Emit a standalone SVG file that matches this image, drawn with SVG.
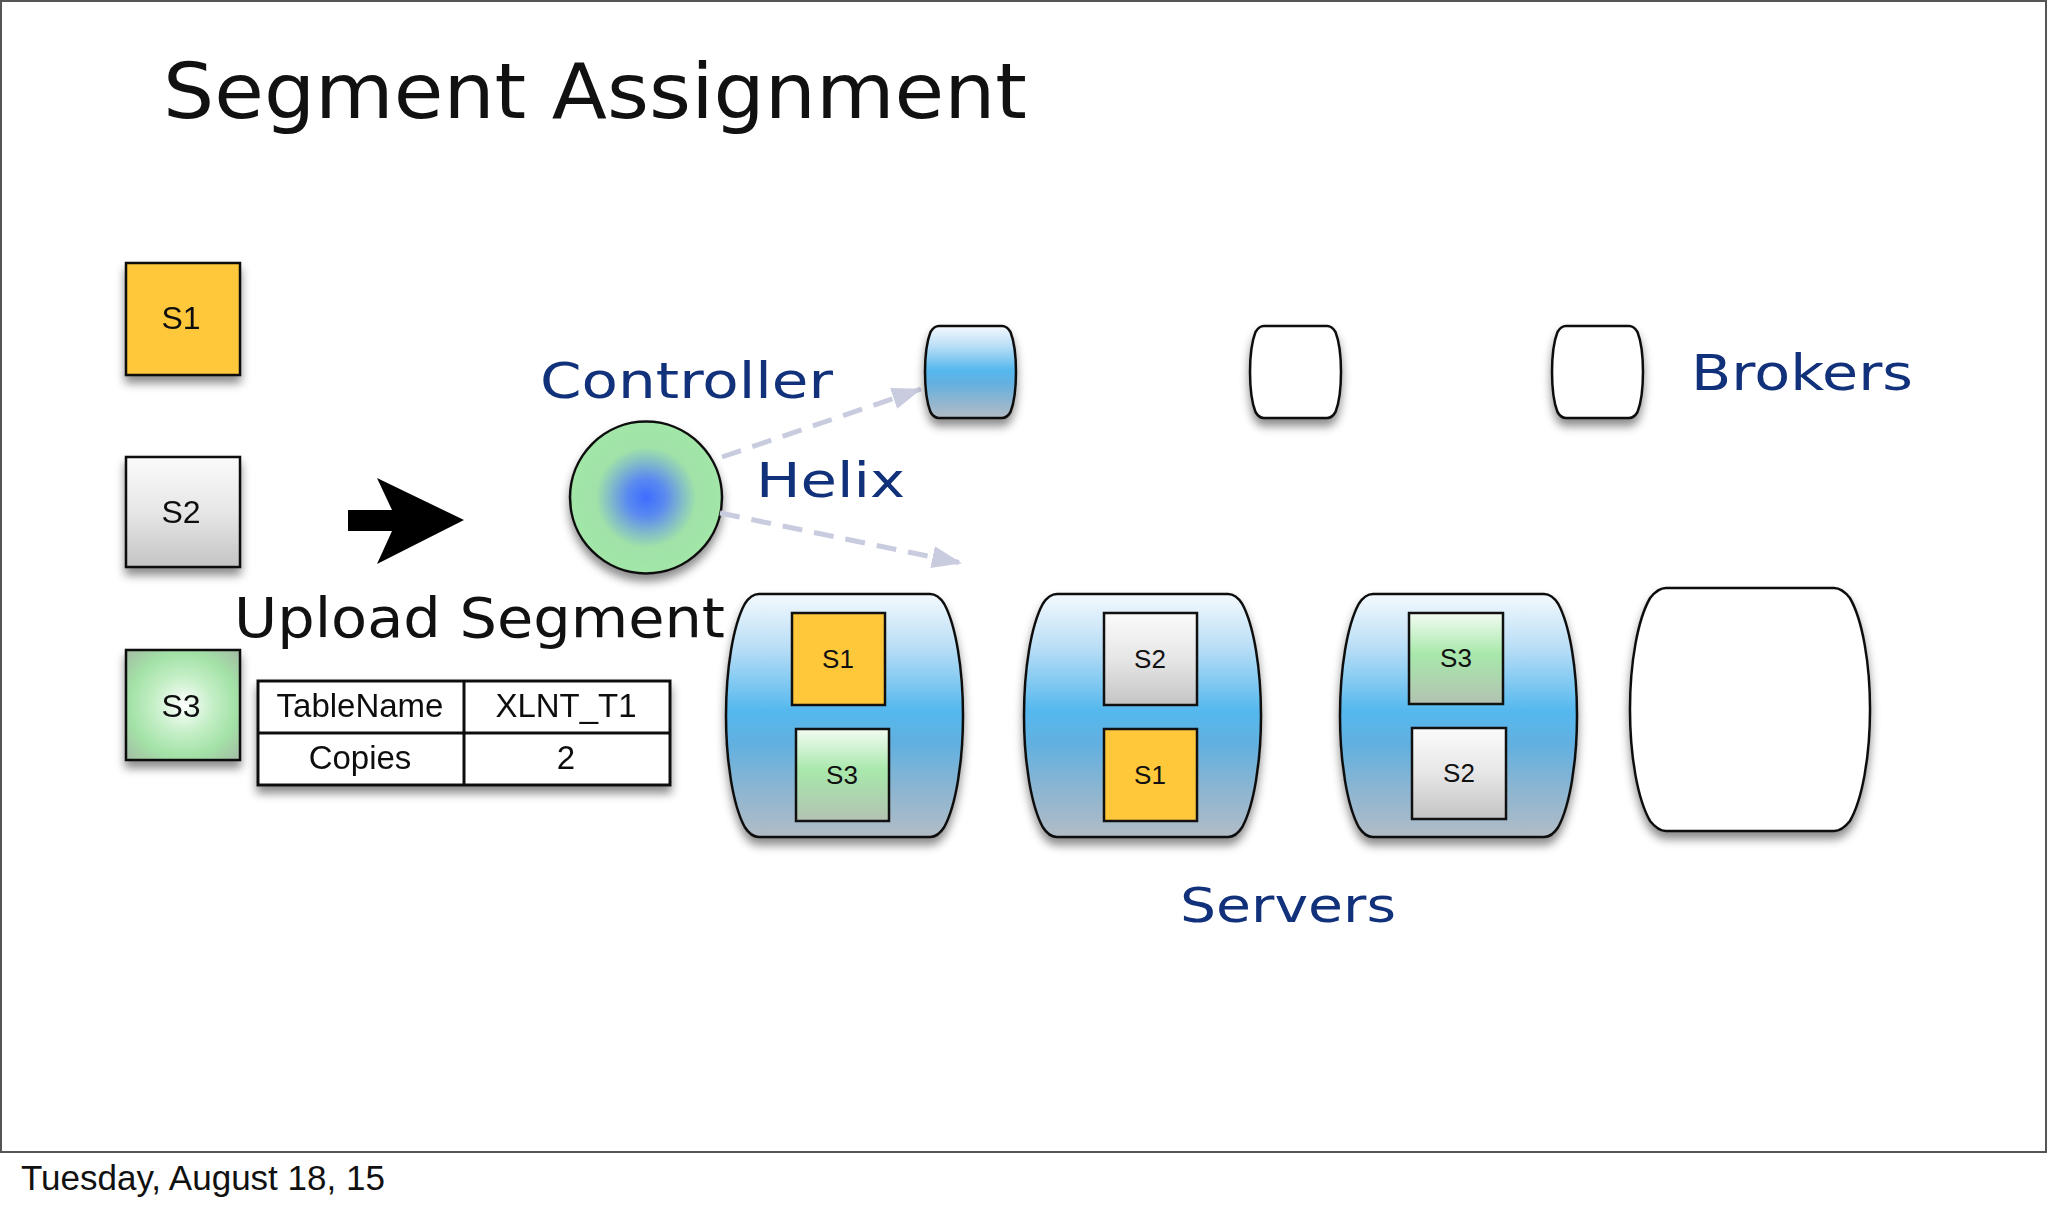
<svg xmlns="http://www.w3.org/2000/svg" width="2048" height="1209" viewBox="0 0 2048 1209">
<defs>
<style>
.hand{font-family:"DejaVu Sans","Noto Sans",sans-serif;}
.navy{fill:#12317b;}
.lbl{font-family:"Liberation Sans",Arial,sans-serif;fill:#111;text-anchor:middle;}
.box{stroke:#111;stroke-width:2.5;}
.srv{stroke:#111;stroke-width:2.5;stroke-linejoin:round;}
.dash{fill:none;stroke:#c9ccdf;stroke-width:5;stroke-dasharray:20 12;}
</style>
<linearGradient id="gBlue" x1="0" y1="0" x2="0" y2="1">
<stop offset="0" stop-color="#f4f9fe"/>
<stop offset="0.22" stop-color="#b9def6"/>
<stop offset="0.48" stop-color="#55b8ee"/>
<stop offset="0.62" stop-color="#62b0e0"/>
<stop offset="0.82" stop-color="#8fb6d0"/>
<stop offset="1" stop-color="#b2bcc6"/>
</linearGradient>
<linearGradient id="gGray" x1="0" y1="0" x2="0" y2="1">
<stop offset="0" stop-color="#fbfbfb"/>
<stop offset="0.5" stop-color="#e6e6e6"/>
<stop offset="1" stop-color="#c4c4c4"/>
</linearGradient>
<radialGradient id="gGreenR" cx="0.5" cy="0.5" r="0.72">
<stop offset="0" stop-color="#ffffff"/>
<stop offset="0.35" stop-color="#c6efc8"/>
<stop offset="0.65" stop-color="#a3e2a7"/>
<stop offset="1" stop-color="#a4b8a4"/>
</radialGradient>
<linearGradient id="gGreenL" x1="0" y1="0" x2="0" y2="1">
<stop offset="0" stop-color="#f3fcf3"/>
<stop offset="0.45" stop-color="#a8e8ab"/>
<stop offset="1" stop-color="#b2c2b2"/>
</linearGradient>
<radialGradient id="gCtrl" cx="0.5" cy="0.5" r="0.5">
<stop offset="0" stop-color="#3f6cff"/>
<stop offset="0.25" stop-color="#5a8af0"/>
<stop offset="0.5" stop-color="#86c2c4"/>
<stop offset="0.66" stop-color="#a0e2a8"/>
<stop offset="1" stop-color="#a2e6a8"/>
</radialGradient>
<filter id="sh" x="-20%" y="-20%" width="140%" height="150%">
<feDropShadow dx="0" dy="7" stdDeviation="5" flood-color="#000" flood-opacity="0.45"/>
</filter>
<marker id="tri" markerUnits="userSpaceOnUse" markerWidth="30" markerHeight="22" refX="29" refY="11" orient="auto">
<path d="M0,0 L30,11 L0,22 Z" fill="#c9ccdf"/>
</marker>
</defs>

<rect x="1" y="1" width="2045" height="1151" fill="#ffffff" stroke="#555" stroke-width="2"/>

<g id="title">
<text class="hand" x="163" y="118" font-size="76" fill="#111" textLength="864" lengthAdjust="spacingAndGlyphs">Segment Assignment</text>
</g>

<g id="seg-s1" filter="url(#sh)">
<rect class="box" x="126" y="263" width="114" height="112" fill="#ffc83a"/>
<text class="lbl" x="181" y="329" font-size="32">S1</text>
</g>
<g id="seg-s2" filter="url(#sh)">
<rect class="box" x="126" y="457" width="114" height="110" fill="url(#gGray)"/>
<text class="lbl" x="181" y="523" font-size="32">S2</text>
</g>
<g id="seg-s3" filter="url(#sh)">
<rect class="box" x="126" y="650" width="114" height="110" fill="url(#gGreenR)"/>
<text class="lbl" x="181" y="717" font-size="32">S3</text>
</g>

<g id="upload-arrow">
<polygon points="348,510 392,510 377,478 464,520 377,564 392,531 348,531" fill="#000"/>
</g>

<g id="upload-label">
<text class="hand" x="234" y="637" font-size="56" fill="#111" textLength="491" lengthAdjust="spacingAndGlyphs">Upload Segment</text>
</g>

<g id="table" filter="url(#sh)">
<rect x="258" y="681" width="412" height="104" fill="#fff" stroke="#111" stroke-width="3"/>
<line x1="258" y1="733" x2="670" y2="733" stroke="#111" stroke-width="3"/>
<line x1="464" y1="681" x2="464" y2="785" stroke="#111" stroke-width="3"/>
<text class="lbl" x="360" y="717" font-size="33">TableName</text>
<text class="lbl" x="566" y="717" font-size="33">XLNT_T1</text>
<text class="lbl" x="360" y="769" font-size="33">Copies</text>
<text class="lbl" x="566" y="769" font-size="33">2</text>
</g>

<g id="controller">
<circle cx="646" cy="497.5" r="76" fill="url(#gCtrl)" stroke="#111" stroke-width="2.5" filter="url(#sh)"/>
<text class="hand navy" x="540" y="398" font-size="50" textLength="293" lengthAdjust="spacingAndGlyphs">Controller</text>
</g>

<g id="helix-label">
<text class="hand navy" x="756" y="497" font-size="48" textLength="149" lengthAdjust="spacingAndGlyphs">Helix</text>
</g>

<g id="connectors">
<line class="dash" x1="722" y1="457" x2="921" y2="389" marker-end="url(#tri)"/>
<line class="dash" x1="720" y1="513" x2="961" y2="563" marker-end="url(#tri)"/>
</g>

<g id="broker-1" filter="url(#sh)">
<path class="srv" d="M939,326 H1002 Q1007,326 1010.5,332 A11.8,47.4 0 0 1 1010.5,412 Q1007,418 1002,418 H939 Q934,418 930.5,412 A11.8,47.4 0 0 1 930.5,332 Q934,326 939,326 Z" fill="url(#gBlue)"/>
</g>
<g id="broker-2" filter="url(#sh)">
<path class="srv" d="M1264,326 H1327 Q1332,326 1335.5,332 A11.8,47.4 0 0 1 1335.5,412 Q1332,418 1327,418 H1264 Q1259,418 1255.5,412 A11.8,47.4 0 0 1 1255.5,332 Q1259,326 1264,326 Z" fill="#fff"/>
</g>
<g id="broker-3" filter="url(#sh)">
<path class="srv" d="M1566,326 H1629 Q1634,326 1637.5,332 A11.8,47.4 0 0 1 1637.5,412 Q1634,418 1629,418 H1566 Q1561,418 1557.5,412 A11.8,47.4 0 0 1 1557.5,332 Q1561,326 1566,326 Z" fill="#fff"/>
</g>
<g id="brokers-label">
<text class="hand navy" x="1691" y="390" font-size="50" textLength="222" lengthAdjust="spacingAndGlyphs">Brokers</text>
</g>

<g id="server-1">
<path class="srv" filter="url(#sh)" d="M759,594 H930 Q938,594 944.3,604 A34.2,125.1 0 0 1 944.3,827 Q938,837 930,837 H759 Q751,837 744.7,827 A34.2,125.1 0 0 1 744.7,604 Q751,594 759,594 Z" fill="url(#gBlue)"/>
<rect class="box" x="792" y="613" width="93" height="92" fill="#ffc83a"/>
<text class="lbl" x="838" y="668" font-size="26">S1</text>
<rect class="box" x="796" y="729" width="93" height="92" fill="url(#gGreenL)"/>
<text class="lbl" x="842" y="784" font-size="26">S3</text>
</g>
<g id="server-2">
<path class="srv" filter="url(#sh)" d="M1057,594 H1228 Q1236,594 1242.3,604 A34.2,125.1 0 0 1 1242.3,827 Q1236,837 1228,837 H1057 Q1049,837 1042.7,827 A34.2,125.1 0 0 1 1042.7,604 Q1049,594 1057,594 Z" fill="url(#gBlue)"/>
<rect class="box" x="1104" y="613" width="93" height="92" fill="url(#gGray)"/>
<text class="lbl" x="1150" y="668" font-size="26">S2</text>
<rect class="box" x="1104" y="729" width="93" height="92" fill="#ffc83a"/>
<text class="lbl" x="1150" y="784" font-size="26">S1</text>
</g>
<g id="server-3">
<path class="srv" filter="url(#sh)" d="M1373,594 H1544 Q1552,594 1558.3,604 A34.2,125.1 0 0 1 1558.3,827 Q1552,837 1544,837 H1373 Q1365,837 1358.7,827 A34.2,125.1 0 0 1 1358.7,604 Q1365,594 1373,594 Z" fill="url(#gBlue)"/>
<rect class="box" x="1409" y="613" width="94" height="91" fill="url(#gGreenL)"/>
<text class="lbl" x="1456" y="667" font-size="26">S3</text>
<rect class="box" x="1412" y="728" width="94" height="91" fill="url(#gGray)"/>
<text class="lbl" x="1459" y="782" font-size="26">S2</text>
</g>
<g id="server-4">
<path class="srv" filter="url(#sh)" d="M1666,588 H1834 Q1842,588 1849.9,598 A36.8,125.1 0 0 1 1849.9,821 Q1842,831 1834,831 H1666 Q1658,831 1650.1,821 A36.8,125.1 0 0 1 1650.1,598 Q1658,588 1666,588 Z" fill="#fff"/>
</g>
<g id="servers-label">
<text class="hand navy" x="1180" y="922" font-size="48" textLength="216" lengthAdjust="spacingAndGlyphs">Servers</text>
</g>

<g id="footer">
<text x="21" y="1190" font-family="'Liberation Sans',Arial,sans-serif" font-size="35" fill="#111">Tuesday, August 18, 15</text>
</g>
</svg>
